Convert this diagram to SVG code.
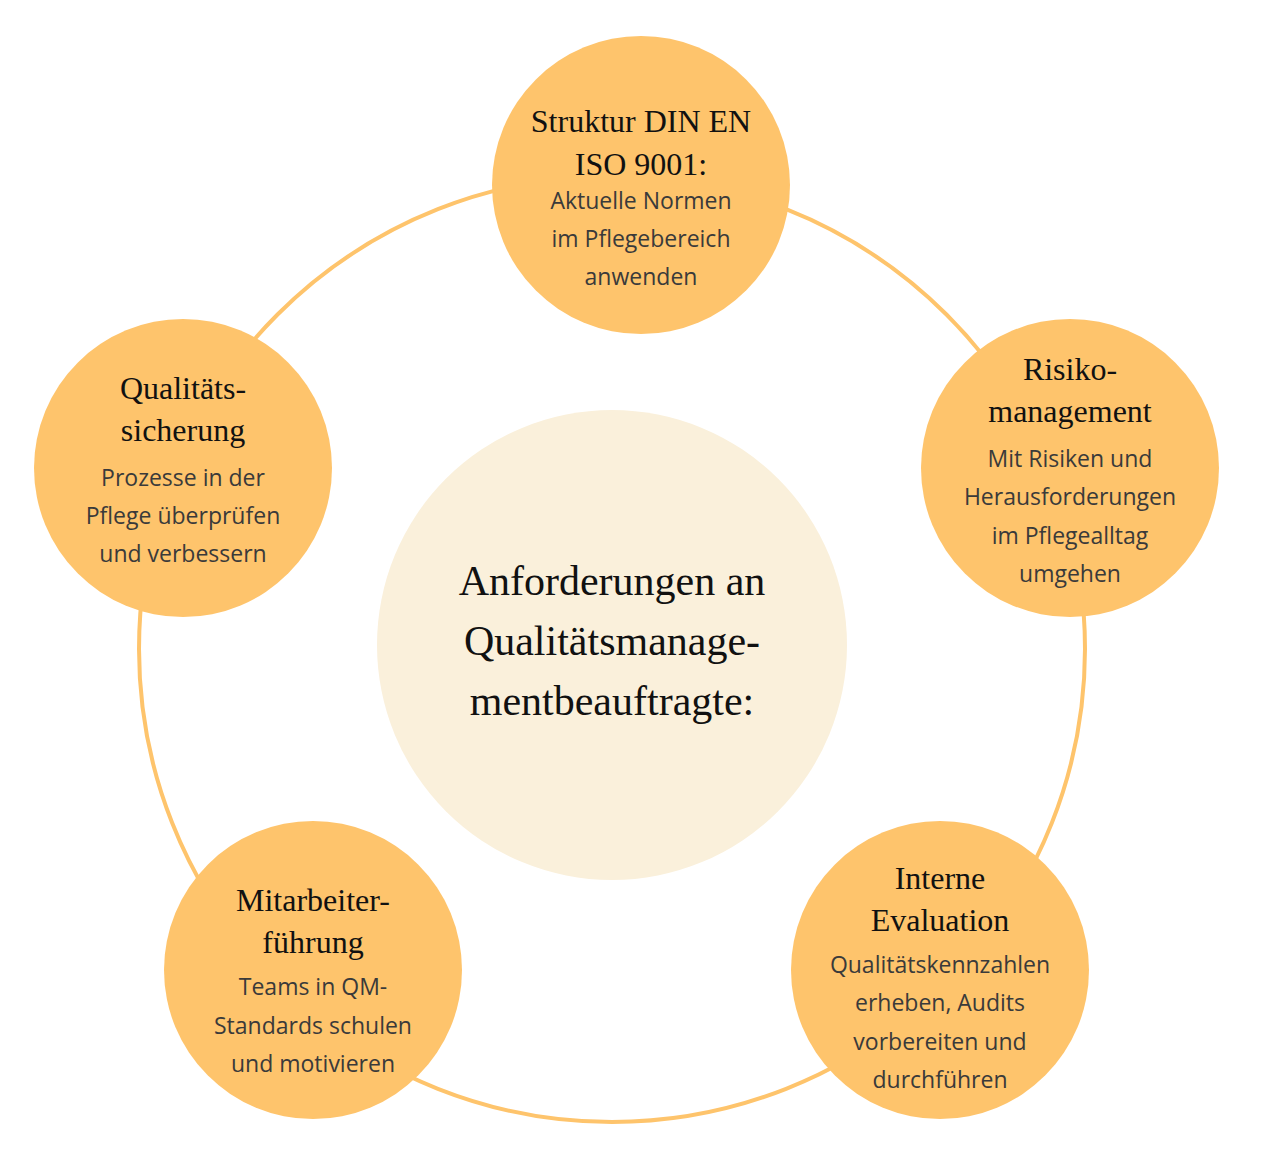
<svg xmlns="http://www.w3.org/2000/svg" width="1280" height="1173" viewBox="0 0 1280 1173">
<style>
.n{fill:#FEC46C}
.t{font-family:"Liberation Serif",serif;font-size:32px;fill:#111;text-anchor:middle}
.b{font-family:"Open Sans","Liberation Sans",sans-serif;font-size:23px;fill:#3a3a3a;text-anchor:middle}
.c{font-family:"Liberation Serif",serif;font-size:42px;fill:#111;text-anchor:middle}
</style>
<rect width="1280" height="1173" fill="#fff"/>
<g id="connectors"><circle cx="612" cy="649" r="473" fill="none" stroke="#FEC46C" stroke-width="4"/></g>
<g id="center"><circle cx="612" cy="645" r="235" fill="#FAF0DB"/>
<text class="c" x="612" y="595">Anforderungen an</text>
<text class="c" x="612" y="655">Qualitätsmanage-</text>
<text class="c" x="612" y="715">mentbeauftragte:</text></g>
<g id="n1"><circle class="n" cx="641" cy="185" r="149"/>
<text class="t" x="641" y="132">Struktur DIN EN</text><text class="t" x="641" y="175">ISO 9001:</text>
<text class="b" x="641" y="209">Aktuelle Normen</text><text class="b" x="641" y="247">im Pflegebereich</text><text class="b" x="641" y="285">anwenden</text></g>
<g id="n2"><circle class="n" cx="1070" cy="468" r="149"/>
<text class="t" x="1070" y="380">Risiko-</text><text class="t" x="1070" y="422">management</text>
<text class="b" x="1070" y="467">Mit Risiken und</text><text class="b" x="1070" y="505">Herausforderungen</text><text class="b" x="1070" y="544">im Pflegealltag</text><text class="b" x="1070" y="582">umgehen</text></g>
<g id="n3"><circle class="n" cx="940" cy="970" r="149"/>
<text class="t" x="940" y="889">Interne</text><text class="t" x="940" y="931">Evaluation</text>
<text class="b" x="940" y="973">Qualitätskennzahlen</text><text class="b" x="940" y="1011">erheben, Audits</text><text class="b" x="940" y="1050">vorbereiten und</text><text class="b" x="940" y="1088">durchführen</text></g>
<g id="n4"><circle class="n" cx="313" cy="970" r="149"/>
<text class="t" x="313" y="911">Mitarbeiter-</text><text class="t" x="313" y="953">führung</text>
<text class="b" x="313" y="995">Teams in QM-</text><text class="b" x="313" y="1034">Standards schulen</text><text class="b" x="313" y="1072">und motivieren</text></g>
<g id="n5"><circle class="n" cx="183" cy="468" r="149"/>
<text class="t" x="183" y="399">Qualitäts-</text><text class="t" x="183" y="441">sicherung</text>
<text class="b" x="183" y="486">Prozesse in der</text><text class="b" x="183" y="524">Pflege überprüfen</text><text class="b" x="183" y="562">und verbessern</text></g>
</svg>
